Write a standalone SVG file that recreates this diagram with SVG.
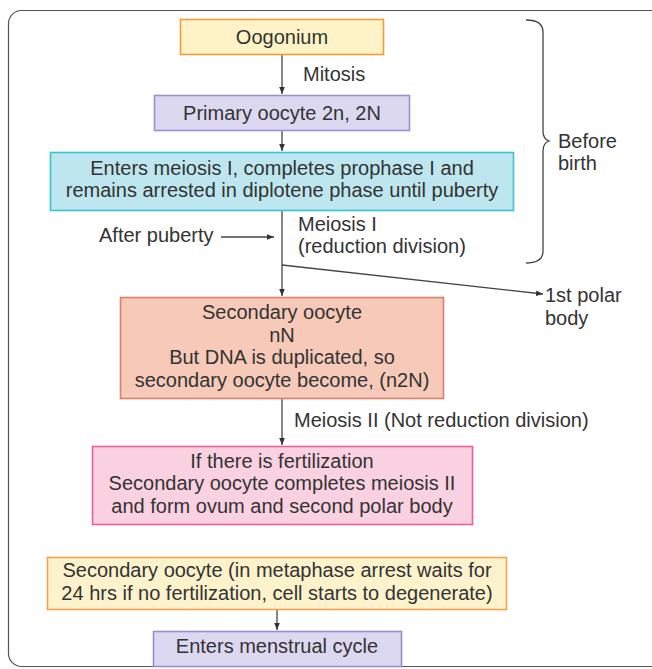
<svg xmlns="http://www.w3.org/2000/svg" width="652" height="669" viewBox="0 0 652 669">
<defs>
<marker id="ah" viewBox="0 0 8 8" refX="8" refY="4" markerWidth="7" markerHeight="7" markerUnits="userSpaceOnUse" orient="auto">
<path d="M0,0.8 L8,4 L0,7.2 Z" fill="#333"/>
</marker>
</defs>
<style>
text{font-family:"Liberation Sans",Arial,sans-serif;font-size:20px;fill:#333}
.c{text-anchor:middle}
.box{stroke-width:1.6}
.ln{stroke:#444;stroke-width:1.3;fill:none}
</style>
<rect width="652" height="669" fill="#fff"/>
<rect x="8.5" y="10.5" width="660" height="656" rx="13" fill="none" stroke="#555" stroke-width="1.2"/>
<g id="connectors">
<line class="ln" x1="282" y1="55" x2="282" y2="94" marker-end="url(#ah)"/>
<line class="ln" x1="282" y1="131" x2="282" y2="151" marker-end="url(#ah)"/>
<line class="ln" x1="282" y1="211" x2="282" y2="296" marker-end="url(#ah)"/>
<line class="ln" x1="221" y1="237" x2="274" y2="237" marker-end="url(#ah)"/>
<line class="ln" x1="282" y1="265" x2="543" y2="294" marker-end="url(#ah)"/>
<line class="ln" x1="282" y1="399" x2="282" y2="445" marker-end="url(#ah)"/>
<line class="ln" x1="277" y1="610" x2="277" y2="630" marker-end="url(#ah)"/>
<path class="ln" d="M526,20 Q543,20 543,32 L543,131 Q543,139 549,141 Q543,143 543,151 L543,251 Q543,263 526,263"/>
</g>
<g id="oogonium">
<rect class="box" x="180.5" y="19.5" width="203" height="35" fill="#fdf3c6" stroke="#f39c3b"/>
<text class="c" x="282" y="44">Oogonium</text>
</g>
<text x="303" y="81">Mitosis</text>
<g id="primary">
<rect class="box" x="154.5" y="95.5" width="255" height="35" fill="#dcd8f0" stroke="#9d8fd6"/>
<text class="c" x="282" y="120">Primary oocyte 2n, 2N</text>
</g>
<g id="meiosis1">
<rect class="box" x="50.5" y="152.5" width="463" height="58" fill="#bde6ee" stroke="#38c4d6"/>
<text class="c" x="282" y="175">Enters meiosis I, completes prophase I and</text>
<text class="c" x="282" y="197">remains arrested in diplotene phase until puberty</text>
</g>
<g id="after-puberty">
<text x="99" y="242">After puberty</text>
</g>
<text x="298" y="231">Meiosis I</text>
<text x="298" y="253">(reduction division)</text>
<g id="polar1">
<text x="545" y="302">1st polar</text>
<text x="545" y="325">body</text>
</g>
<g id="before-birth">
<text x="558" y="148">Before</text>
<text x="558" y="170">birth</text>
</g>
<g id="secondary">
<rect class="box" x="120.5" y="297.5" width="323" height="101" fill="#f6c9b9" stroke="#d9816c"/>
<text class="c" x="282" y="319">Secondary oocyte</text>
<text class="c" x="282" y="342">nN</text>
<text class="c" x="282" y="364">But DNA is duplicated, so</text>
<text class="c" x="282" y="387">secondary oocyte become, (n2N)</text>
</g>
<text x="294" y="427">Meiosis II (Not reduction division)</text>
<g id="fertilization">
<rect class="box" x="92.5" y="446.5" width="380" height="78" fill="#f9d1e0" stroke="#ee5f9c"/>
<text class="c" x="282" y="468">If there is fertilization</text>
<text class="c" x="282" y="490">Secondary oocyte completes meiosis II</text>
<text class="c" x="282" y="513">and form ovum and second polar body</text>
</g>
<g id="no-fertilization">
<rect class="box" x="47.5" y="557.5" width="459" height="52" fill="#fcf2cc" stroke="#f4a24c"/>
<text class="c" x="277" y="577">Secondary oocyte (in metaphase arrest waits for</text>
<text class="c" x="277" y="600">24 hrs if no fertilization, cell starts to degenerate)</text>
</g>
<g id="menstrual">
<rect class="box" x="153.5" y="631.5" width="248" height="35" fill="#ddd8f1" stroke="#9a8bd4"/>
<text class="c" x="277" y="653">Enters menstrual cycle</text>
</g>
</svg>
